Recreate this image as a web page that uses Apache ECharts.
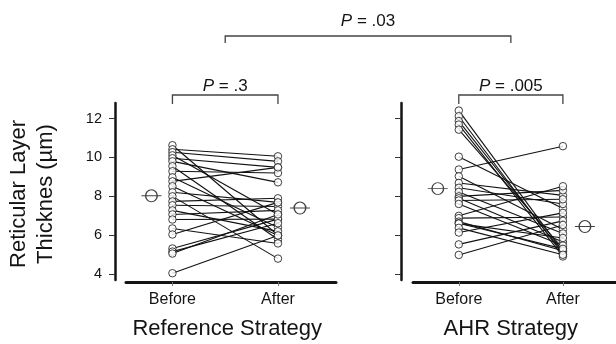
<!DOCTYPE html>
<html><head><meta charset="utf-8">
<script src="https://cdn.jsdelivr.net/npm/echarts@6/dist/echarts.min.js"></script>
<style>html,body{margin:0;padding:0;background:#fff}#c{width:616px;height:344px}</style>
</head><body><div id="c"></div>
<script>
// ---- data ----
const groups = ['Reference Strategy', 'AHR Strategy'];
const timepoints = ['Before', 'After'];
const yTicks = [4, 6, 8, 10, 12];
// paired subjects (Before[i] -> After[i])
const refBefore = [10.63, 10.42, 10.27, 10.11, 9.96, 9.80, 9.55, 9.29, 8.98, 8.77, 8.52, 8.21, 8.00, 7.74, 7.54, 7.28, 7.07, 6.81, 6.35, 6.04, 5.32, 5.16, 5.06, 4.05];
const refAfter  = [6.00, 10.06, 9.80, 7.07, 9.49, 8.72, 5.78, 9.20, 6.40, 9.49, 5.99, 7.69, 4.80, 7.90, 7.48, 6.20, 7.28, 6.83, 5.58, 7.69, 6.83, 6.62, 7.07, 5.99];
const ahrBefore = [12.41, 12.12, 11.87, 11.69, 11.43, 10.04, 9.38, 9.03, 8.69, 8.44, 8.23, 8.00, 7.90, 7.79, 7.61, 7.00, 6.88, 6.70, 6.62, 6.60, 6.38, 6.14, 5.53, 4.99];
const ahrAfter  = [5.16, 5.01, 5.10, 4.91, 5.32, 7.38, 10.58, 6.30, 8.05, 7.61, 6.09, 8.31, 5.65, 7.85, 5.47, 8.52, 6.94, 5.20, 5.30, 5.86, 5.00, 7.15, 6.74, 6.53];
const refMeans = [8.03, 7.40];
const ahrMeans = [8.40, 6.45];
const pValues = ['.3', '.005', '.03'];

const FONT = 'Liberation Sans, Arial, sans-serif';
const INK = '#141414';
const panels = [
  {before: refBefore, after: refAfter, means: refMeans},
  {before: ahrBefore, after: ahrAfter, means: ahrMeans}
];
const meanSymbol = 'path://M0,6 L20,6 M15.8,6 A5.8,5.8 0 1 1 4.2,6 A5.8,5.8 0 1 1 15.8,6';

const chart = echarts.init(document.getElementById('c'), null, {renderer: 'canvas'});

const grids = [
  {left: 126, top: 103, width: 210, height: 177},
  {left: 413, top: 103, width: 203, height: 177}
];
const xMax = [2.55, 2.51];

const xAxes = panels.map((p, i) => ({
  type: 'value', gridIndex: i, min: 0.56, max: xMax[i], offset: 2,
  axisLine: {show: true, onZero: false, lineStyle: {color: INK, width: 3}},
  axisTick: {show: true, customValues: [1, 2], length: 4, lineStyle: {color: '#777', width: 1}},
  axisLabel: {show: true, customValues: [1, 2], margin: 10, color: INK, fontFamily: FONT, fontSize: 16,
    formatter: v => timepoints[Math.round(v) - 1]},
  splitLine: {show: false}
}));
const yAxes = panels.map((p, i) => ({
  type: 'value', gridIndex: i, min: 3.7, max: 12.8, offset: i === 0 ? 11 : 12,
  axisLine: {show: true, onZero: false, lineStyle: {color: INK, width: 2.5}},
  axisTick: {show: true, customValues: yTicks, length: 6, lineStyle: {color: '#333', width: 1}},
  axisLabel: {show: i === 0, customValues: yTicks, margin: 13, color: INK, fontFamily: FONT, fontSize: 14.5},
  splitLine: {show: false}
}));

const series = [];
panels.forEach((p, i) => {
  p.before.forEach((b, j) => {
    series.push({
      type: 'line', xAxisIndex: i, yAxisIndex: i, silent: true, symbol: 'none', z: 2,
      lineStyle: {color: '#111', width: 1.1},
      data: [[1, b], [2, p.after[j]]]
    });
  });
  series.push({
    type: 'scatter', xAxisIndex: i, yAxisIndex: i, silent: true, z: 3,
    symbol: 'circle', symbolSize: 7.5,
    itemStyle: {color: '#fff', borderColor: '#111', borderWidth: 1},
    data: p.before.map(b => [1, b]).concat(p.after.map(a => [2, a]))
  });
  series.push({
    type: 'scatter', xAxisIndex: i, yAxisIndex: i, silent: true, z: 3,
    symbol: meanSymbol, symbolSize: [20, 12], symbolOffset: [-21, 0],
    itemStyle: {color: 'rgba(0,0,0,0)', borderColor: '#111', borderWidth: 1.1},
    data: [[1, p.means[0]]]
  });
  series.push({
    type: 'scatter', xAxisIndex: i, yAxisIndex: i, silent: true, z: 3,
    symbol: meanSymbol, symbolSize: [20, 12], symbolOffset: [22, 0],
    itemStyle: {color: 'rgba(0,0,0,0)', borderColor: '#111', borderWidth: 1.1},
    data: [[2, p.means[1]]]
  });
});

chart.setOption({
  animation: false,
  grid: grids,
  xAxis: xAxes,
  yAxis: yAxes,
  series: series
});

// ---- annotations positioned from the axes ----
const px = (i, v) => chart.convertToPixel({xAxisIndex: i}, v);
const bx = [[px(0, 1), px(0, 2)], [px(1, 1), px(1, 2)]];
const mid = bx.map(b => (b[0] + b[1]) / 2);
const BR = '#444';
function bracket(x1, x2, y, leg) {
  return {type: 'polyline', silent: true,
    shape: {points: [[x1, y + leg], [x1, y], [x2, y], [x2, y + leg]]},
    style: {stroke: BR, lineWidth: 1.3, fill: null}};
}
function pText(x, y, val) {
  return {type: 'text', x: x, y: y, silent: true,
    style: {text: '{i|P} = ' + val, textAlign: 'center', textVerticalAlign: 'middle',
      fill: INK, font: '17px ' + FONT,
      rich: {i: {fontStyle: 'italic', fontSize: 17, fontFamily: FONT, fill: INK}}}};
}
const graphics = [
  bracket(bx[0][0], bx[0][1], 95, 9),
  bracket(bx[1][0], bx[1][1], 95, 9),
  bracket(mid[0], mid[1], 36, 7),
  pText(mid[0], 86, pValues[0]),
  pText(mid[1], 86, pValues[1]),
  pText((mid[0] + mid[1]) / 2, 21.5, pValues[2]),
  {type: 'text', x: mid[0] + 2, y: 329, silent: true,
    style: {text: groups[0], textAlign: 'center', textVerticalAlign: 'middle', fill: INK, font: '22px ' + FONT}},
  {type: 'text', x: mid[1], y: 329, silent: true,
    style: {text: groups[1], textAlign: 'center', textVerticalAlign: 'middle', fill: INK, font: '22px ' + FONT}},
  {type: 'text', x: 32, y: 194, rotation: Math.PI / 2, silent: true,
    style: {text: 'Reticular Layer\nThicknes (µm)', textAlign: 'center', textVerticalAlign: 'middle',
      fill: INK, font: '22px ' + FONT, lineHeight: 27}}
];
chart.setOption({graphic: graphics});
</script>
</body></html>
